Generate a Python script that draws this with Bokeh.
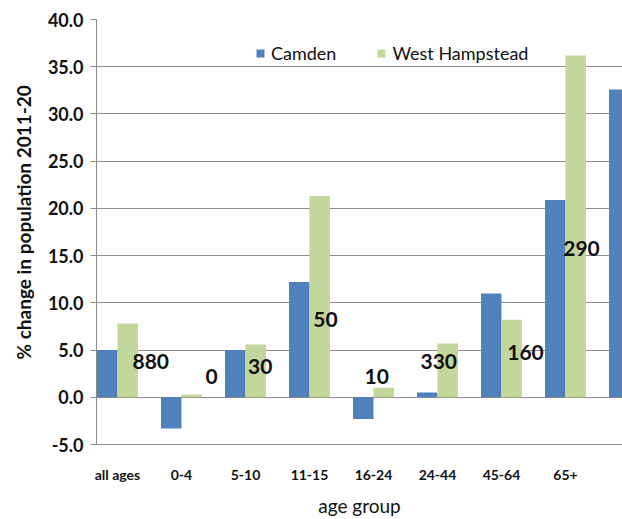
from bokeh.plotting import figure
from bokeh.models import (Range1d, FixedTicker, NumeralTickFormatter, Title,
                          Legend, LegendItem, ColumnDataSource)
from bokeh.core.properties import value
from bokeh.embed import file_html
from bokeh.resources import INLINE

# ---- data ----
categories = ["all ages", "0-4", "5-10", "11-15", "16-24", "24-44", "45-64", "65+"]
# Camden has a 9th bar (next age band) that is cut off at the right edge
camden = [5.0, -3.3, 5.0, 12.2, -2.3, 0.5, 11.0, 20.9, 32.6]
west_hampstead = [7.8, 0.3, 5.6, 21.3, 1.0, 5.7, 8.2, 36.2]
count_labels = ["880", "0", "30", "50", "10", "330", "160", "290"]
label_y = [3.8, 2.2, 3.3, 8.2, 2.2, 3.8, 4.7, 15.8]
label_dx = [0.52, 0.47, 0.23, 0.25, 0.05, 0.02, 0.375, 0.25]
y_ticks = [-5, 0, 5, 10, 15, 20, 25, 30, 35, 40]

BLUE = "#4F81BD"
GREEN = "#C3D69B"
GRID = "#8c8c8c"
TXT = "#111111"
BAR_W = 0.32

src_c = ColumnDataSource(dict(x=[i - BAR_W / 2 for i in range(len(camden))], top=camden))
src_w = ColumnDataSource(dict(x=[i + BAR_W / 2 for i in range(len(west_hampstead))], top=west_hampstead))
src_l = ColumnDataSource(dict(x=[i + d for i, d in enumerate(label_dx)], y=label_y, text=count_labels))

p = figure(width=622, height=519, output_backend="svg", toolbar_location=None,
           x_range=Range1d(-0.328, 7.891), y_range=Range1d(-5, 40),
           min_border_left=96, min_border_right=0, min_border_top=19, min_border_bottom=74)
p.outline_line_color = None
p.background_fill_color = "white"
p.border_fill_color = "white"

p.xgrid.visible = False
p.ygrid.ticker = FixedTicker(ticks=y_ticks)
p.ygrid.grid_line_color = GRID
p.ygrid.grid_line_width = 1

# y axis
p.yaxis.ticker = FixedTicker(ticks=y_ticks)
p.yaxis.formatter = NumeralTickFormatter(format="0.0")
p.yaxis.axis_line_color = GRID
p.yaxis.major_tick_line_color = GRID
p.yaxis.major_tick_out = 6
p.yaxis.major_tick_in = 0
p.yaxis.minor_tick_line_color = None
p.yaxis.major_label_standoff = 7
p.yaxis.major_label_text_font = "Lato"
p.yaxis.major_label_text_font_size = "18px"
p.yaxis.major_label_text_font_style = "bold"
p.yaxis.major_label_text_color = TXT

# x axis
p.xaxis.ticker = FixedTicker(ticks=list(range(len(categories))))
p.xaxis.major_label_overrides = {i: c for i, c in enumerate(categories)}
p.xaxis.axis_line_color = GRID
p.xaxis.major_tick_line_color = None
p.xaxis.minor_tick_line_color = None
p.xaxis.major_tick_out = 0
p.xaxis.major_tick_in = 0
p.xaxis.major_label_standoff = 21
p.xaxis.major_label_text_font = "Lato"
p.xaxis.major_label_text_font_size = "14px"
p.xaxis.major_label_text_font_style = "bold"
p.xaxis.major_label_text_line_height = 1.0
p.xaxis.major_label_text_color = TXT
p.xaxis.axis_label = "age group"
p.xaxis.axis_label_standoff = 8
p.xaxis.axis_label_text_font = "Lato"
p.xaxis.axis_label_text_font_size = "19px"
p.xaxis.axis_label_text_font_style = "normal"
p.xaxis.axis_label_text_line_height = 1.0
p.xaxis.axis_label_text_color = TXT

r1 = p.vbar(x="x", top="top", bottom=0, width=BAR_W, source=src_c,
            fill_color=BLUE, line_color=None)
r2 = p.vbar(x="x", top="top", bottom=0, width=BAR_W, source=src_w,
            fill_color=GREEN, line_color=None)

p.text(x="x", y="y", text="text", source=src_l, text_align="center",
       text_baseline="middle", text_font=value("Lato"), text_font_size="21px",
       text_font_style="bold", text_color=TXT)

legend = Legend(items=[LegendItem(label="Camden", renderers=[r1]),
                       LegendItem(label="West Hampstead", renderers=[r2])],
                orientation="horizontal", location=(159, 380),
                glyph_width=10, glyph_height=10, label_standoff=6, spacing=40,
                padding=0, margin=0, border_line_color=None,
                background_fill_alpha=0, label_text_font="Lato",
                label_text_font_size="18px", label_text_color=TXT)
p.add_layout(legend)

ytitle = Title(text="% change in population 2011-20", align="left", offset=85,
               vertical_align="middle", standoff=18, text_font="Lato",
               text_font_size="19px", text_font_style="bold", text_color=TXT)
p.add_layout(ytitle, "left")

open("out.html", "w").write(file_html(p, INLINE))
